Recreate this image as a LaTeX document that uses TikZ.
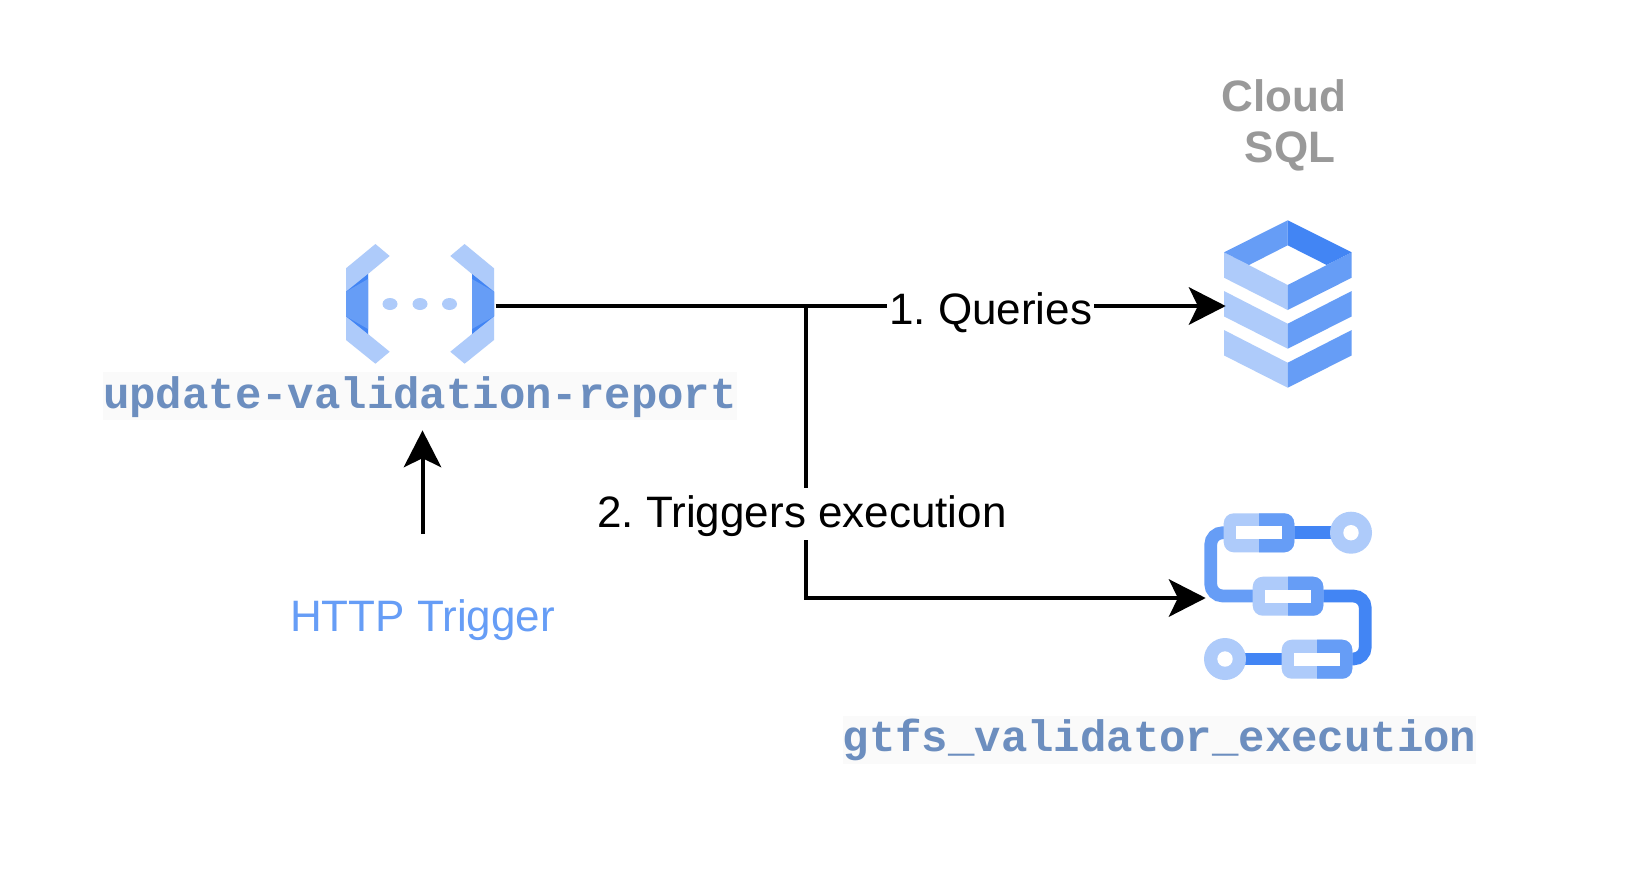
\documentclass[tikz,border=0pt]{standalone}
\usepackage{fontspec}
\setmainfont{Liberation Sans}
\setmonofont{Liberation Mono}
\usepackage{xcolor}
\usetikzlibrary{arrows.meta}

\definecolor{iconlight}{HTML}{AECBFA}
\definecolor{iconmid}{HTML}{669DF6}
\definecolor{icondark}{HTML}{4285F4}
\definecolor{codeblue}{HTML}{6C8EBF}
\definecolor{codeback}{HTML}{FAFAFA}
\definecolor{titlegray}{HTML}{999999}

\tikzset{
    icon/.style={inner sep=0pt, outer sep=0pt, minimum height=40pt},
    flowlabel/.style={font=\frenchspacing\fontsize{22}{26}\selectfont, fill=white, inner xsep=1pt, inner ysep=0pt},
    codelabel/.style={font=\ttfamily\bfseries\fontsize{22}{26}\selectfont, text=codeblue, fill=codeback,
        inner sep=0pt, text height=18pt, text depth=6pt},
    pipe/.style={line width=6.35pt, rounded corners=6pt}
}

\begin{document}
\begin{tikzpicture}[x=0.5pt,y=-0.5pt,>={Stealth[length=18.4pt,width=18.7pt,inset=4.5pt]}]
    \path[use as bounding box, fill=white] (0,0) rectangle (1640,880);

    % Bracket icon
    \foreach \side in {1,-1} {
        \begin{scope}[shift={(420,0)}, xscale=\side]
            \fill[iconlight] (-44.6,244) -- (-30.3,256) -- (-52,274) -- (-52,334) -- (-30.3,351.7)
                -- (-44.6,363.7) -- (-74,340) -- (-74,268.3) -- cycle;
            \fill[icondark] (-52,274) -- (-52,334) -- (-74,316.3) -- (-74,291.7) -- cycle;
            \fill[iconmid] (-52,279) -- (-52,329) -- (-74,316.3) -- (-74,291.7) -- cycle;
        \end{scope}
    }
    \foreach \x in {390,420,449.5} {
        \fill[iconlight] (\x,304) ellipse[x radius=7.5, y radius=6];
    }
    \node[icon, minimum width=75.7pt] (fnicon) at (420,306) {};
    \node[codelabel] (fnname) at (420,396) {update-validation-report};

    % Stacked database icon
    \foreach \dy in {0,38.7,77.7} {
        \fill[iconlight] (1224,252.3+\dy) -- (1287.7,285+\dy) -- (1287.7,310+\dy) -- (1224,277.7+\dy) -- cycle;
        \fill[iconmid] (1351.7,252.3+\dy) -- (1287.7,285+\dy) -- (1287.7,310+\dy) -- (1351.7,277.7+\dy) -- cycle;
    }
    \fill[iconmid] (1287.7,220.3) -- (1224,252.3) -- (1249,265) -- (1287.7,245.3) -- cycle;
    \fill[icondark] (1287.7,220.3) -- (1351.7,252.3) -- (1326.7,265) -- (1287.7,245.3) -- cycle;
    \node[icon, minimum width=63pt] (sqlicon) at (1288.7,306) {};
    \node[font=\bfseries\fontsize{22}{25.3}\selectfont, text=titlegray, align=center, inner sep=0pt] (sqltitle)
        at (1284,125.5) {Cloud\\\hspace*{6pt}SQL};

    % Workflow icon
    \draw[pipe, iconmid] (1235,532.7) -- (1210.7,532.7) -- (1210.7,596) -- (1265,596);
    \draw[pipe, icondark] (1310,596) -- (1365.3,596) -- (1365.3,659) -- (1340,659);
    \draw[line width=6.35pt, icondark] (1290,532.7) -- (1340,532.7);
    \draw[line width=6.35pt, icondark] (1235,659) -- (1290,659);
    \foreach \x/\y in {1223.7/513.3, 1252.7/576.7, 1281.7/639.7} {
        \fill[iconlight, rounded corners=5pt] (\x,\y) rectangle +(70.6,39);
        \fill[iconmid] (\x+35.3,\y) [rounded corners=5pt] -- ++(35.3,0) -- ++(0,39) [sharp corners] -- ++(-35.3,0) -- cycle;
        \fill[white] (\x+12.7,\y+13) rectangle +(45.2,13);
    }
    \foreach \x/\y in {1351/532.7, 1225/659} {
        \fill[iconlight] (\x,\y) circle[radius=21];
        \fill[white] (\x,\y) circle[radius=7.7];
    }
    \node[icon, minimum width=83pt] (wficon) at (1288.7,598) {};
    \node[codelabel] (wfname) at (1159.5,739.7) {gtfs\_validator\_execution};

    % Connectors
    \coordinate (branch) at (806,306);
    \draw[->, line width=2pt] (fnicon.east) -- node[flowlabel, pos=0.678, text height=22pt, text depth=4pt] (queries) {1. Queries} (sqlicon.west);
    \draw[->, line width=2pt] (branch) |- (wficon.west);
    \node[flowlabel, anchor=base, text height=19.9pt, text depth=6.25pt] (triggers) at (802,527.5) {2. Triggers execution};

    % Trigger
    \node[flowlabel, anchor=base, text=iconmid, fill=none, text height=15.5pt, outer ysep=33pt] (httplabel) at (422.5,631) {HTTP Trigger};
    \draw[->, line width=2pt, shorten >=5pt] (httplabel.north) -- (httplabel.north |- fnname.south);
\end{tikzpicture}
\end{document}
